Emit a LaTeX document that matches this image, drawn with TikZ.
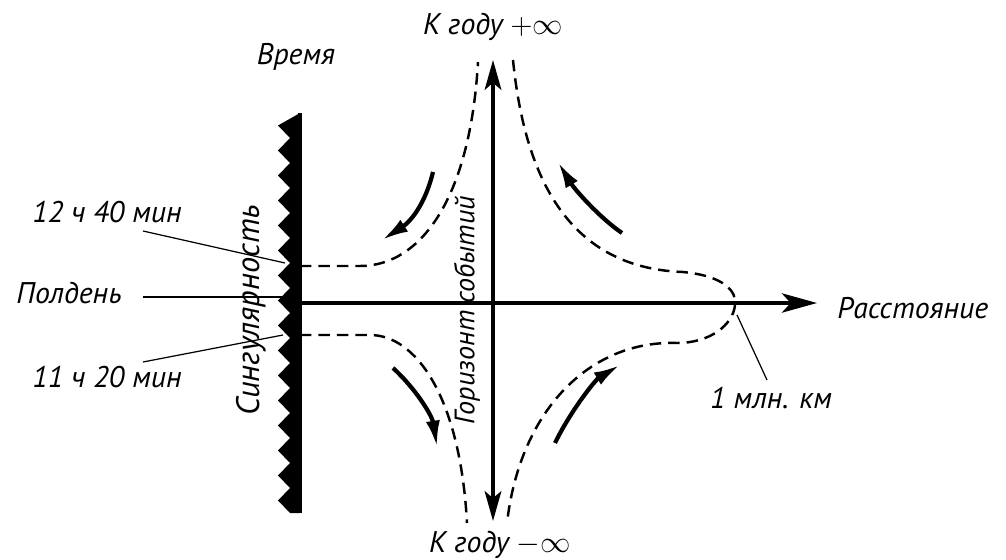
\documentclass[tikz,border=0pt]{standalone}
\usepackage{fontspec}
\setmainfont{PT Sans}
\usetikzlibrary{arrows.meta,positioning,calc}

\begin{document}
\begin{tikzpicture}[x=0.02cm, y=-0.02cm]
    \tikzstyle{caption} = [font=\itshape\fontsize{17}{20}\selectfont, inner sep=0pt]
    \tikzstyle{axis} = [draw, line width=2pt]
    \tikzstyle{orbit} = [draw, line width=1.4pt, dash pattern=on 6.5pt off 4pt]
    \tikzstyle{flow} = [draw, line width=2.4pt, -{Latex[length=15pt,width=8pt]}]
    \tikzstyle{leader} = [draw, line width=0.7pt]

    \useasboundingbox (0,0) rectangle (1006,560);

    % singularity
    \coordinate (singtop) at (300,113);
    \coordinate (singbot) at (300,513);
    \coordinate (singmid) at (300,303);
    \fill (singtop) \foreach \i in {0,...,15} {-- (278,{125.5+25*\i}) -- (290,{138+25*\i})} -- (singbot) -- cycle;
    \draw [line width=2.8pt] (singtop) -- (singbot);

    % axes
    \coordinate (dist) at (817,303);
    \coordinate (future) at (493,60);
    \coordinate (past) at (493,521);
    \path [axis, -{Stealth[length=20pt,width=11pt,inset=5pt]}] (singmid) -- (dist);
    \path [axis, {Stealth[length=17pt,width=9.5pt,inset=4pt]}-{Stealth[length=17pt,width=9.5pt,inset=4pt]}] (past) -- (future);

    % orbits
    \path [orbit] (300,266) -- (360,266) .. controls (420,266) and (470,200) .. (478,62);
    \path [orbit] (300,335) -- (370,335) .. controls (415,335) and (460,395) .. (467,523);
    \path [orbit] (513,60) .. controls (525,180) and (570,268) .. (683,272)
        .. controls (725,276) and (737,292) .. (735,305)
        .. controls (733,325) and (710,343) .. (677,343)
        .. controls (590,340) and (520,410) .. (507,523);

    % motion
    \path [flow] (433,172) .. controls (425,205) and (410,222) .. (382,240);
    \path [flow] (622,233) .. controls (600,218) and (575,190) .. (558,162);
    \path [flow] (393,368) .. controls (415,388) and (432,415) .. (437,447);
    \path [flow] (555,443) .. controls (570,412) and (595,380) .. (620,365);

    % labels
    \node [caption] (time) at (296,57) {Время};
    \node [caption] (plus) at (493,27) {К году $+\infty$};
    \node [caption] (minus) at (500,545) {К году $-\infty$};
    \node [caption, anchor=west] (space) at (837,308) {Расстояние};
    \node [caption] (late) at (107,212) {12 ч 40 мин};
    \node [caption] (noon) at (69,293) {Полдень};
    \node [caption] (early) at (107,377) {11 ч 20 мин};
    \node [caption] (mkm) at (771,398) {1 млн. км};
    \node [caption, rotate=90, font=\itshape\fontsize{18.5}{20}\selectfont] (sing) at (251,310) {Сингулярность};
    \node [caption, rotate=90, font=\itshape\fontsize{16}{18}\selectfont] (horizon) at (467,310) {Горизонт событий};

    \coordinate (latefoot) at (143,231);
    \coordinate (noonfoot) at (143,297);
    \coordinate (earlyfoot) at (143,362);
    \coordinate (mkmfoot) at (767,380);
    \path [leader] (latefoot) -- (285,263);
    \path [leader] (noonfoot) -- (283,297);
    \path [leader] (earlyfoot) -- (283,335);
    \path [leader] (mkmfoot) -- (737,315);
\end{tikzpicture}
\end{document}
